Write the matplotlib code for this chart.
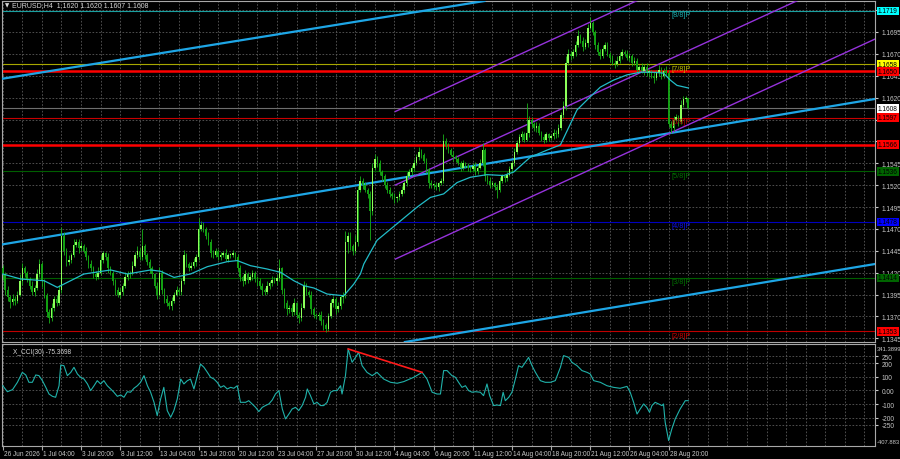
import matplotlib
matplotlib.use("Agg")
import matplotlib.pyplot as plt
import matplotlib.transforms as mtransforms
from matplotlib import font_manager
import numpy as np

# EURUSD H4 closes, in pips above 1.1000
closes = [
    418, 400, 392, 386, 390, 388, 395, 410, 425, 420, 412,
    405, 398, 402, 418, 430, 410,
    395, 375, 368, 380, 390, 385, 400, 462,
    445, 432, 435, 440, 452, 455, 448, 450,
    445, 438, 430, 425, 418, 415, 420, 435, 442, 438, 425, 420,
    410, 400, 395, 398, 405, 415, 418, 420, 428, 440, 445, 438,
    450, 440, 432, 425, 418, 405, 395, 420, 400, 390, 385, 382,
    388, 395, 400, 398, 410, 440, 430, 425, 428, 432, 438, 470,
    475, 470, 462, 455, 442, 440, 445, 438, 440, 442, 436, 440,
    440, 442, 438, 425, 415, 410, 418, 412, 415, 420, 413, 410,
    405, 400, 398, 405, 408, 412, 410, 414, 425, 400, 385, 378,
    380, 375, 385, 372, 368, 380, 405, 398, 395, 378, 372, 370,
    372, 365, 360, 356, 370, 385, 390, 378, 382, 392, 395, 455,
    462, 450, 445, 455, 515, 525,
    520, 515, 510, 490, 540, 550, 545, 535, 530, 520, 515, 510, 508, 505,
    506, 510, 515, 522, 530, 535, 540, 545, 552, 558, 555, 548, 538, 522, 520,
    520, 518, 522, 525, 570, 565, 560, 555, 552, 550, 545, 540, 545, 542, 540,
    538, 542, 536, 540, 545, 560, 530, 525, 520, 522, 518, 515, 525, 530, 528,
    532, 538, 545, 558, 568, 575, 578, 572, 580, 595, 590, 585, 588,
    580, 575, 572, 578, 574, 576, 580, 578, 585, 600, 610, 660, 670, 668,
    672, 680, 690, 685, 678, 682, 700, 705, 695, 680, 672, 668, 675, 680,
    670, 665, 660, 658, 662, 668, 672, 670, 665, 668, 660, 662, 652, 655, 650, 655,
    648, 650, 645, 642, 648, 652, 645, 650, 648, 590, 585, 595, 598, 592, 612, 618, 620, 608,
]
first_open = 425
upper_wick = [
    4, 3, 5, 2, 6, 3, 4, 8, 6, 3, 2,
    3, 5, 4, 6, 6, 2,
    3, 2, 4, 5, 3, 4, 6, 10,
    4, 3, 5, 2, 6, 4, 3, 5,
    3, 4, 2, 5, 3, 4, 6, 5, 3, 2, 4, 3,
    2, 3, 4, 5, 3, 6, 4, 2, 5, 4, 5, 3,
    20, 3, 2, 4, 3, 2, 4, 6, 3, 2, 4, 3,
    4, 3, 5, 2, 4, 6, 3, 2, 4, 5, 3, 13,
    4, 3, 2, 5, 3, 4, 3, 2, 4, 3, 5, 2,
    3, 4, 2, 3, 4, 2, 5, 3, 4, 3, 2, 3,
    4, 3, 2, 5, 3, 4, 3, 5, 11, 2, 3, 4,
    3, 4, 6, 2, 3, 5, 6, 3, 2, 4, 3, 2,
    3, 4, 2, 3, 4, 5, 3, 2, 4, 3, 3, 13,
    4, 5, 3, 8, 4, 6,
    3, 4, 2, 3, 5, 6, 3, 4, 2, 3, 4, 3, 2, 3,
    2, 3, 4, 3, 5, 4, 3, 5, 4, 6, 3, 2, 3, 2, 4,
    3, 4, 2, 3, 9, 4, 3, 2, 4, 3, 2, 3, 4, 2, 3,
    2, 3, 4, 3, 5, 8, 3, 2, 4, 3, 2, 3, 4, 3, 2,
    3, 4, 3, 5, 4, 3, 4, 3, 34, 4, 3, 2, 4,
    3, 2, 4, 3, 2, 3, 4, 3, 5, 4, 6, 8, 5, 3,
    4, 5, 7, 3, 4, 5, 4, 7, 3, 2, 4, 3, 5, 4,
    3, 2, 4, 3, 5, 4, 3, 2, 4, 3, 2, 4, 3, 2, 4, 3,
    4, 3, 2, 4, 3, 5, 3, 4, 6, 4, 3, 4, 3, 2, 5, 4, 2, 0,
]
lower_wick = [
    6, 5, 4, 6, 3, 5, 3, 2, 4, 5, 3,
    4, 3, 5, 2, 3, 6,
    4, 6, 5, 3, 4, 3, 2, 3,
    5, 4, 3, 4, 2, 3, 5, 3,
    3, 4, 5, 3, 4, 3, 2, 3, 4, 3, 5, 3,
    4, 5, 3, 4, 3, 2, 3, 4, 3, 2, 3, 4,
    3, 4, 3, 5, 4, 3, 5, 2, 4, 5, 3, 4,
    5, 3, 2, 4, 3, 3, 4, 3, 2, 3, 4, 3,
    2, 4, 3, 3, 4, 3, 2, 4, 3, 2, 3, 4,
    3, 2, 4, 3, 4, 5, 3, 4, 2, 3, 4, 5,
    4, 5, 3, 2, 4, 3, 2, 4, 3, 4, 5, 6,
    4, 5, 3, 4, 6, 3, 2, 4, 3, 5, 4, 3,
    4, 5, 6, 4, 3, 2, 4, 5, 3, 3, 7, 4,
    12, 4, 5, 3, 4, 3,
    4, 3, 5, 33, 4, 3, 4, 3, 5, 3, 4, 3, 4, 5,
    4, 3, 2, 4, 3, 2, 3, 4, 2, 3, 4, 3, 4, 5, 3,
    4, 3, 5, 2, 3, 4, 3, 2, 4, 3, 2, 4, 3, 2, 4,
    3, 2, 4, 3, 2, 3, 5, 4, 3, 2, 3, 10, 3, 2, 4,
    3, 2, 4, 3, 2, 3, 4, 3, 2, 5, 4, 3, 4,
    3, 5, 4, 3, 4, 2, 3, 4, 3, 2, 3, 4, 3, 5,
    3, 4, 2, 3, 5, 3, 4, 2, 4, 5, 3, 4, 3, 2,
    3, 4, 3, 4, 2, 3, 4, 3, 2, 3, 4, 3, 4, 3, 2, 4,
    3, 4, 3, 5, 2, 3, 4, 3, 2, 4, 5, 3, 2, 4, 2, 3, 3, 1,
]

# moving average: bar index, pips
ma_bars = [0, 7.3, 16.9, 22.3, 33.2, 44.1, 50.9, 60.4, 64.5, 70.0, 76.7, 83.6, 91.7,
           95.8, 101.2, 108.0, 113.5, 118.9, 123.0, 127.1, 132.5, 139.3, 143.4, 146.1,
           147.5, 152.9, 161.1, 169.3, 174.7, 180.1, 185.6, 191.0, 197.8, 204.6, 208.7,
           215.5, 222.3, 227.8, 234.6, 240.0, 244.1, 249.5, 255.0, 260.4, 265.8, 269.9,
           272.7, 275.4, 280.1]
ma_pips = [418.5, 412.8, 410.8, 403.2, 418.5, 423.1, 418.5, 423.1, 421.6, 414.6, 418.5,
           426.9, 432.6, 433.8, 428.0, 424.2, 420.4, 410.8, 405.1, 402.5, 395.6, 393.6,
           407, 418.5, 430, 457, 476, 495, 506, 510, 523, 529, 532, 531, 535, 552, 560,
           566, 606, 621, 632, 640, 646, 649, 649, 648, 640, 634, 631]

# CCI sub-window
cci_bars = [0, 1.9, 4.0, 6.0, 8.0, 9.4, 10.7, 12.1, 13.5, 14.8, 16.2, 17.6, 18.9, 20.3,
            21.6, 23.0, 23.7, 25.0, 26.4, 27.8, 29.1, 30.5, 31.8, 33.2, 34.6, 35.9, 37.3,
            38.6, 40.0, 41.3, 42.7, 44.1, 45.4, 46.8, 48.2, 49.5, 50.9, 52.2, 53.6, 55.0,
            56.3, 57.7, 59.1, 60.4, 61.8, 63.1, 64.5, 65.8, 67.2, 68.6, 69.9, 71.3, 72.7,
            74.0, 75.4, 76.7, 78.1, 79.5, 80.8, 82.2, 83.6, 84.9, 86.3, 87.6, 89.0, 90.3,
            91.7, 93.1, 94.4, 95.8, 97.1, 99.2, 100.5, 101.9, 103.3, 104.6, 106.0, 107.3,
            108.7, 110.1, 111.4, 112.8, 114.2, 115.5, 116.9, 118.2, 119.6, 120.9, 122.3,
            123.7, 124.4, 125.7, 127.1, 128.4, 129.8, 131.1, 132.5, 133.9, 135.2, 136.6,
            138.0, 138.6, 140.0, 141.1, 142.7, 144.1, 145.4, 146.8, 148.8, 150.9, 152.9,
            155.6, 158.4, 161.1, 163.8, 167.9, 171.3, 173.3, 175.4, 177.4, 178.8, 180.1,
            181.5, 183.5, 184.9, 186.2, 187.6, 189.0, 190.3, 191.7, 193.1, 195.1, 196.4,
            197.8, 198.9, 200.5, 201.9, 203.3, 204.4, 205.3, 206.7, 208.0, 209.4, 210.7,
            212.1, 213.5, 214.8, 216.2, 217.6, 219.6, 221.6, 223.7, 225.7, 227.8, 229.1,
            231.2, 232.5, 234.6, 236.6, 238.7, 240.0, 241.4, 244.1, 246.8, 249.5, 252.2,
            255.0, 256.3, 257.7, 259.1, 260.4, 261.8, 263.1, 264.2, 265.2, 266.5, 267.9,
            269.3, 269.9, 270.6, 272.0, 273.3, 274.7, 276.7, 278.8, 280.0]
cci_vals = [35, -9, 6, 60, 133, 114, 60, 60, 114, 109, 72, 23, -26, -43, -50, 35, 187, 182,
            109, 133, 170, 121, 97, 84, 48, -1, 35, 72, 48, 72, 35, 11, -13, -43, -33, -50,
            -9, -13, 16, 35, 60, 109, 35, -13, -87, -185, -62, 23, -148, -197, -148, -62,
            84, 48, 72, 84, 11, 109, 194, 170, 133, 97, 84, 60, 23, 35, 11, 23, 16, 35,
            -87, -87, -75, -99, -124, -155, -124, -111, -99, -70, -26, -1, -136, -209,
            -173, -136, -124, -148, -111, -50, 11, -38, -99, -87, -111, -111, -87, -13, -1,
            -1, 35, -26, 109, 305, 207, 243, 280, 182, 133, 109, 133, 84, 60, 53, 65, 97,
            133, 84, -13, -26, -26, 146, 146, 109, 97, 60, 23, 35, -1, -13, -9, -13, -38,
            48, -38, -111, -107, -111, -13, -75, -50, -13, 84, 182, 170, 207, 243, 182,
            133, 72, 60, 60, 72, 170, 256, 243, 207, 182, 146, 133, 121, 72, 60, 35, 23,
            16, 30, -13, -87, -173, -136, -99, -124, -160, -111, -87, -99, -111, -99,
            -234, -368, -283, -209, -136, -75, -75]
cci_div_bars = [141.1, 171.3]
cci_div_vals = [305, 133]
cci_top, cci_bottom = 341.3899, -407.883
cci_ticks = [250, 200, 100, 0, -100, -200, -250]
cci_tick_labels = ["250", "200", "100", "0.00", "-100", "-200", "-250"]

# horizontal levels (Murray + support/resistance + current price)
levels = [1.1719, 1.1658, 1.1650, 1.1608, 1.1597, 1.1566, 1.1536, 1.1478, 1.1414, 1.1353]
murray_names = ["[8/8]P", "[7/8]P", "", "", "[6/8]P", "", "[5/8]P", "[4/8]P", "[3/8]P", "[2/8]P"]

# trend lines (two points each, drawn endless) and the channel, (bar, price)
trend_lines = [((-0.8, 1.16413), (121.6, 1.16965)),
               ((-0.8, 1.14520), (356.3, 1.16185)),
               ((260.4, 1.13854), (356.3, 1.14299))]
channel_lines = [((160.4, 1.16042), (356.3, 1.18555)),
                 ((160.4, 1.15202), (356.3, 1.17715)),
                 ((160.4, 1.14356), (356.3, 1.16869))]

time_labels = ["26 Jun 2026", "1 Jul 04:00", "3 Jul 20:00", "8 Jul 12:00", "13 Jul 04:00",
               "15 Jul 20:00", "20 Jul 12:00", "23 Jul 04:00", "27 Jul 20:00", "30 Jul 12:00",
               "4 Aug 04:00", "6 Aug 20:00", "11 Aug 12:00", "14 Aug 04:00", "18 Aug 20:00",
               "21 Aug 12:00", "26 Aug 04:00", "28 Aug 20:00"]
header = "EURUSD,H4  1.1620 1.1620 1.1607 1.1608"
cci_title = "X_CCI(30) -75.3698"

# ---- styles
level_colors = ["#1aa0a0", "#a8a800", "#ff0000", "#6e6e6e", "#c80000", "#ff0000",
                "#005f00", "#0000c0", "#005f00", "#c00000"]
level_widths = [0.8, 0.8, 1.8, 0.8, 0.8, 1.8, 0.8, 0.8, 0.8, 0.8]
box_colors = ["#00ffff", "#ffff00", "#ff0000", "#ffffff", "#ff0000", "#ff0000",
              "#006400", "#0000ff", "#006400", "#ff0000"]
murray_colors = ["#1aa8a8", "#b8b800", "", "", "#b00000", "", "#007000", "#1010e0",
                 "#007000", "#c80000"]
txt_col = "#c8c8c8"
grid_col = "#5a5a5a"
spine_col = "#a8a8a8"

installed = {f.name for f in font_manager.fontManager.ttflist}
if "Liberation Sans Narrow" in installed:
    plt.rcParams["font.family"] = ["Liberation Sans Narrow", "DejaVu Sans"]
    fs = 5.6
else:
    plt.rcParams["font.family"] = ["Liberation Sans", "DejaVu Sans"]
    fs = 4.7

W, H = 900, 460
fig = plt.figure(figsize=(9, 4.6), dpi=100, facecolor="black")
ax = fig.add_axes([2 / W, (H - 343) / H, 873 / W, 341 / H], facecolor="black")
ax2 = fig.add_axes([2 / W, (H - 447) / H, 873 / W, 102 / H], facecolor="black")

n = len(closes)
x = np.arange(n)
c = 1.1 + np.array(closes) / 1e4
o = 1.1 + np.array([first_open] + closes[:-1]) / 1e4
hi = np.maximum(o, c) + np.array(upper_wick) / 1e4
lo = np.minimum(o, c) - np.array(lower_wick) / 1e4

ax.vlines(x, lo, hi, color="#19b319", lw=0.6, zorder=4)
up = c >= o
body = np.maximum(np.abs(c - o), 0.00008)
ax.bar(x[up], body[up], bottom=np.minimum(o, c)[up], width=0.62, color="#8cff5a", zorder=5)
ax.bar(x[~up], body[~up], bottom=np.minimum(o, c)[~up], width=0.62, color="#12a012", zorder=5)

ax.plot(ma_bars, 1.1 + np.array(ma_pips) / 1e4, color="#22bcc8", lw=0.9, zorder=6)

for p0, p1 in trend_lines:
    ax.axline(p0, p1, color="#1ea6e6", lw=1.6, zorder=3)
for (x0, y0), (x1, y1) in channel_lines:
    ax.plot([x0, x1], [y0, y1], color="#9632dc", lw=1.0, zorder=3)

ax.set_xlim(-0.3, 356.3)
ax.set_ylim(1.13408, 1.17304)

blend = mtransforms.blended_transform_factory(ax.transAxes, ax.transData)
for lvl, col, lw_, box, name, mcol in zip(levels, level_colors, level_widths,
                                          box_colors, murray_names, murray_colors):
    ax.axhline(lvl, color=col, lw=lw_, zorder=2)
    ax.text(1 + 3 / 873, lvl, f"{lvl:.4f}", transform=blend, fontsize=fs, color="black",
            va="center", ha="left", clip_on=False, zorder=10,
            bbox=dict(boxstyle="square,pad=0.14", fc=box, ec="none"))
    if name:
        ax.text(273, lvl - 0.00005, name, fontsize=fs + 0.6, color=mcol, va="top",
                ha="left", zorder=7)

# tick labels hidden behind a level box are left blank
price_ticks = np.arange(1.1345, 1.17201, 0.0025)
price_labels = [f"{t:.4f}" if min(abs(t - l) for l in levels) > 0.00045 else ""
                for t in price_ticks]
ax.yaxis.tick_right()
ax.set_yticks(price_ticks)
ax.set_yticklabels(price_labels)
ax.tick_params(axis="y", colors=txt_col, labelsize=fs, length=2, pad=2.5)
ax.set_xticks(np.arange(0, 357, 8))
ax.tick_params(axis="x", length=0, labelbottom=False)
ax.grid(True, color=grid_col, ls=(0, (2, 2)), lw=0.6)

fig.text(5 / W, 1 - 6 / H, "\u25bc", color="#d8d8d8", fontsize=4, va="center",
         ha="left", family="DejaVu Sans")
fig.text(12 / W, 1 - 6 / H, header, color="#d8d8d8", fontsize=fs + 0.3, va="center",
         ha="left")

# ---- CCI panel
ax2.plot(cci_bars, cci_vals, color="#20b2aa", lw=0.8, zorder=4)
ax2.plot(cci_div_bars, cci_div_vals, color="#ff1a1a", lw=1.2, zorder=5)
ax2.set_xlim(-0.3, 356.3)
ax2.set_ylim(cci_bottom, cci_top)
ax2.yaxis.tick_right()
ax2.set_yticks(cci_ticks)
ax2.set_yticklabels(cci_tick_labels)
ax2.tick_params(axis="y", colors=txt_col, labelsize=fs, length=2, pad=2.5)
ax2.text(1 + 2 / 873, 0.985, f"{cci_top:.4f}", transform=ax2.transAxes, fontsize=fs - 0.5,
         color=txt_col, va="top", ha="left")
ax2.text(1 + 2 / 873, 0.015, f"{cci_bottom:.3f}", transform=ax2.transAxes,
         fontsize=fs - 0.5, color=txt_col, va="bottom", ha="left")
ax2.text(4, 0.96, cci_title, transform=mtransforms.blended_transform_factory(
    ax2.transData, ax2.transAxes), fontsize=fs, color="#d8d8d8", va="top", ha="left")

ax2.set_xticks(np.arange(0, 357, 8), minor=True)
ax2.set_xticks(np.arange(len(time_labels)) * 16)
ax2.set_xticklabels([])
ax2.tick_params(axis="x", which="major", colors=spine_col, length=3)
ax2.tick_params(axis="x", which="minor", length=0)
ax2.grid(True, which="both", color=grid_col, ls=(0, (2, 2)), lw=0.6)
tb = mtransforms.blended_transform_factory(ax2.transData, ax2.transAxes)
for i, lab in enumerate(time_labels):
    ax2.text(i * 16 + 0.4, -0.035, lab, transform=tb, fontsize=fs, color=txt_col,
             va="top", ha="left", clip_on=False)

for a in (ax, ax2):
    for s in a.spines.values():
        s.set_color(spine_col)
        s.set_linewidth(0.8)

fig.savefig("out.png", dpi=100, facecolor="black")
